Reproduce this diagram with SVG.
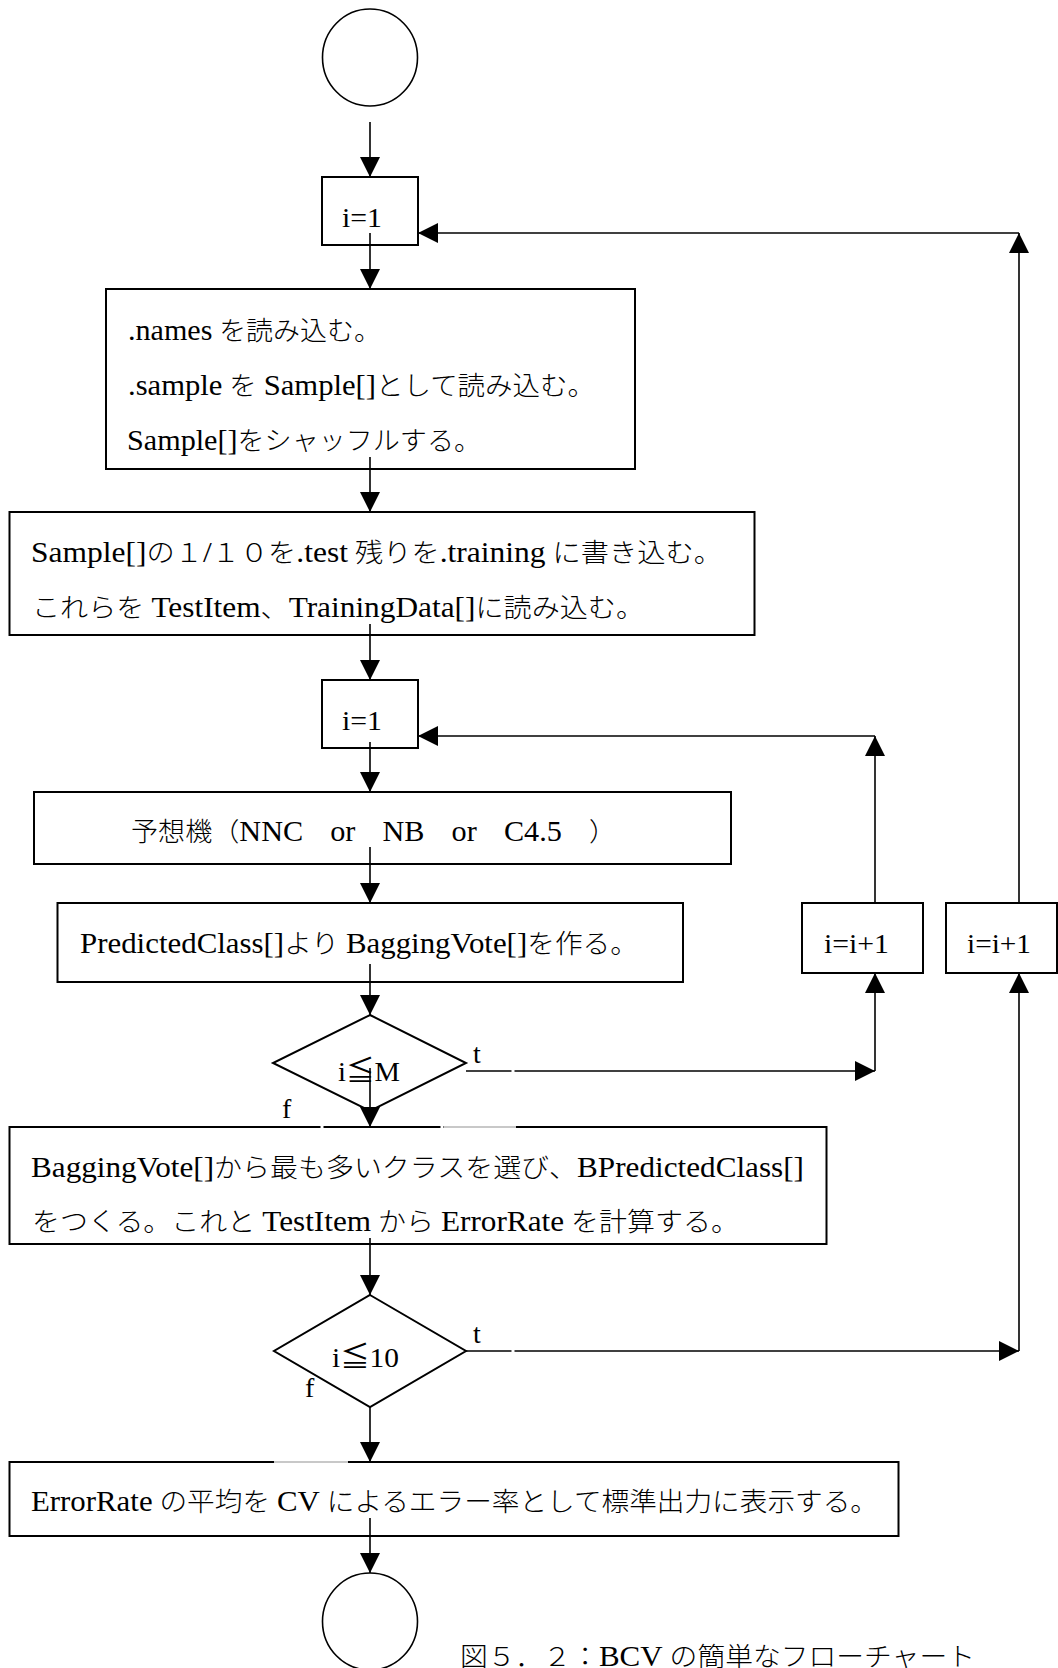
<svg xmlns="http://www.w3.org/2000/svg" width="1058" height="1668" viewBox="0 0 1058 1668">
  <style>
    .box { fill: #fff; stroke: #000; stroke-width: 2; }
    .term { fill: #fff; stroke: #000; stroke-width: 1.6; }
    .c { fill: none; stroke: #000; stroke-width: 1.6; }
    .gap { fill: none; stroke: #fff; stroke-width: 3; }
    .pale { fill: none; stroke: #c8c8c8; stroke-width: 2; }
    text { font-family: "Liberation Serif", "Noto Sans CJK JP", serif; font-size: 26px; font-weight: 300; fill: #000; }
    .en { font-size: 29px; font-weight: 400; }
    .lbl { font-size: 28px; font-weight: 400; }
  </style>
  <defs>
    <marker id="arrow" markerUnits="userSpaceOnUse" markerWidth="20" markerHeight="20" refX="20" refY="10" orient="auto">
      <path d="M0,0 L20,10 L0,20 z" fill="#000"/>
    </marker>
  </defs>

  <rect width="1058" height="1668" fill="#fff"/>

  <!-- terminals -->
  <g id="start">
    <ellipse class="term" cx="370" cy="57.5" rx="47.5" ry="48.5"/>
  </g>
  <g id="end">
    <ellipse class="term" cx="370" cy="1621.5" rx="47.5" ry="48.5"/>
  </g>

  <!-- outer counter init -->
  <g id="init-outer">
    <rect class="box" x="322" y="177" width="96" height="68"/>
    <text class="lbl" x="342" y="227" textLength="40" lengthAdjust="spacingAndGlyphs">i=1</text>
  </g>

  <g id="read-files">
    <rect class="box" x="106" y="289" width="529" height="180"/>
    <text x="128" y="340" textLength="253" lengthAdjust="spacingAndGlyphs"><tspan class="en">.names</tspan> を読み込む。</text>
    <text x="128" y="395" textLength="467" lengthAdjust="spacingAndGlyphs"><tspan class="en">.sample</tspan> を <tspan class="en">Sample[]</tspan>として読み込む。</text>
    <text x="127" y="450" textLength="354" lengthAdjust="spacingAndGlyphs"><tspan class="en">Sample[]</tspan>をシャッフルする。</text>
  </g>

  <g id="split-data">
    <rect class="box" x="9.5" y="512" width="745" height="123"/>
    <text x="31" y="562" textLength="691" lengthAdjust="spacingAndGlyphs"><tspan class="en">Sample[]</tspan>の１<tspan class="en">/</tspan>１０を<tspan class="en">.test</tspan> 残りを<tspan class="en">.training</tspan> に書き込む。</text>
    <text x="32" y="617" textLength="612" lengthAdjust="spacingAndGlyphs">これらを <tspan class="en">TestItem</tspan>、<tspan class="en">TrainingData[]</tspan>に読み込む。</text>
  </g>

  <!-- inner counter init -->
  <g id="init-inner">
    <rect class="box" x="322" y="680" width="96" height="68"/>
    <text class="lbl" x="342" y="730" textLength="40" lengthAdjust="spacingAndGlyphs">i=1</text>
  </g>

  <g id="predictor">
    <rect class="box" x="34" y="792" width="697" height="72"/>
    <text x="131" y="841" textLength="485" lengthAdjust="spacingAndGlyphs">予想機（<tspan class="en">NNC</tspan>　<tspan class="en">or</tspan>　<tspan class="en">NB</tspan>　<tspan class="en">or</tspan>　<tspan class="en">C4.5</tspan>　）</text>
  </g>

  <g id="vote">
    <rect class="box" x="57.5" y="903" width="625.5" height="79"/>
    <text x="80" y="953" textLength="558" lengthAdjust="spacingAndGlyphs"><tspan class="en">PredictedClass[]</tspan>より <tspan class="en">BaggingVote[]</tspan>を作る。</text>
  </g>

  <g id="inc-inner">
    <rect class="box" x="802" y="903" width="121" height="70"/>
    <text class="lbl" x="824" y="953" textLength="65" lengthAdjust="spacingAndGlyphs">i=i+1</text>
  </g>

  <g id="inc-outer">
    <rect class="box" x="946" y="903" width="111" height="70"/>
    <text class="lbl" x="967" y="953" textLength="64" lengthAdjust="spacingAndGlyphs">i=i+1</text>
  </g>

  <g id="test-m">
    <polygon class="box" points="370,1015 466,1063 370,1111 273,1063"/>
    <text class="lbl" x="338" y="1081" textLength="62" lengthAdjust="spacingAndGlyphs">i≦M</text>
  </g>

  <g id="error-rate">
    <rect class="box" x="9.5" y="1127" width="817" height="117"/>
    <text x="31" y="1177" textLength="773" lengthAdjust="spacingAndGlyphs"><tspan class="en">BaggingVote[]</tspan>から最も多いクラスを選び、<tspan class="en">BPredictedClass[]</tspan></text>
    <text x="32" y="1231" textLength="707" lengthAdjust="spacingAndGlyphs">をつくる。これと <tspan class="en">TestItem</tspan> から <tspan class="en">ErrorRate</tspan> を計算する。</text>
  </g>

  <g id="test-10">
    <polygon class="box" points="370,1295 466,1351 370,1407 274,1351"/>
    <text class="lbl" x="332" y="1367" textLength="67" lengthAdjust="spacingAndGlyphs">i≦10</text>
  </g>

  <g id="output">
    <rect class="box" x="9.5" y="1462" width="889" height="74"/>
    <text x="31" y="1511" textLength="847" lengthAdjust="spacingAndGlyphs"><tspan class="en">ErrorRate</tspan> の平均を <tspan class="en">CV</tspan> によるエラー率として標準出力に表示する。</text>
  </g>

  <!-- connectors -->
  <g id="connectors">
    <line class="c" x1="370" y1="122" x2="370" y2="177" marker-end="url(#arrow)"/>
    <line class="c" x1="370" y1="233" x2="370" y2="289" marker-end="url(#arrow)"/>
    <line class="c" x1="370" y1="457" x2="370" y2="512" marker-end="url(#arrow)"/>
    <line class="c" x1="370" y1="624" x2="370" y2="680" marker-end="url(#arrow)"/>
    <line class="c" x1="370" y1="742" x2="370" y2="792" marker-end="url(#arrow)"/>
    <line class="c" x1="370" y1="847" x2="370" y2="903" marker-end="url(#arrow)"/>
    <line class="c" x1="370" y1="964" x2="370" y2="1015" marker-end="url(#arrow)"/>
    <line class="c" x1="370" y1="1068" x2="370" y2="1127" marker-end="url(#arrow)"/>
    <line class="c" x1="370" y1="1238" x2="370" y2="1295" marker-end="url(#arrow)"/>
    <line class="c" x1="370" y1="1407" x2="370" y2="1462" marker-end="url(#arrow)"/>
    <line class="c" x1="370" y1="1518" x2="370" y2="1573" marker-end="url(#arrow)"/>

    <!-- inner loop: t branch back to inner init -->
    <line class="c" x1="466" y1="1071" x2="875" y2="1071" marker-end="url(#arrow)"/>
    <line class="c" x1="875" y1="1071" x2="875" y2="973" marker-end="url(#arrow)"/>
    <line class="c" x1="875" y1="903" x2="875" y2="736" marker-end="url(#arrow)"/>
    <line class="c" x1="875" y1="736" x2="418" y2="736" marker-end="url(#arrow)"/>

    <!-- outer loop: t branch back to outer init -->
    <line class="c" x1="466" y1="1351" x2="1019" y2="1351" marker-end="url(#arrow)"/>
    <line class="c" x1="1019" y1="1351" x2="1019" y2="973" marker-end="url(#arrow)"/>
    <line class="c" x1="1019" y1="903" x2="1019" y2="233" marker-end="url(#arrow)"/>
    <line class="c" x1="1019" y1="233" x2="418" y2="233" marker-end="url(#arrow)"/>
  </g>

  <!-- faint breaks where label frames overlap the lines -->
  <g id="breaks">
    <line class="pale" x1="444" y1="1127" x2="516" y2="1127"/>
    <line class="pale" x1="274" y1="1462" x2="348" y2="1462"/>
    <line class="gap" x1="322" y1="1125" x2="322" y2="1129"/>
    <line class="gap" x1="442" y1="1125" x2="442" y2="1129"/>
    <line class="gap" x1="513" y1="1069" x2="513" y2="1073"/>
    <line class="gap" x1="513" y1="1349" x2="513" y2="1353"/>
  </g>

  <!-- branch labels -->
  <g id="labels">
    <text class="lbl" x="473" y="1063">t</text>
    <text class="lbl" x="282" y="1118">f</text>
    <text class="lbl" x="473" y="1343">t</text>
    <text class="lbl" x="305" y="1397">f</text>
  </g>

  <text id="caption" x="460" y="1666" textLength="515" lengthAdjust="spacingAndGlyphs">図５．２：<tspan class="en">BCV</tspan> の簡単なフローチャート</text>
</svg>
